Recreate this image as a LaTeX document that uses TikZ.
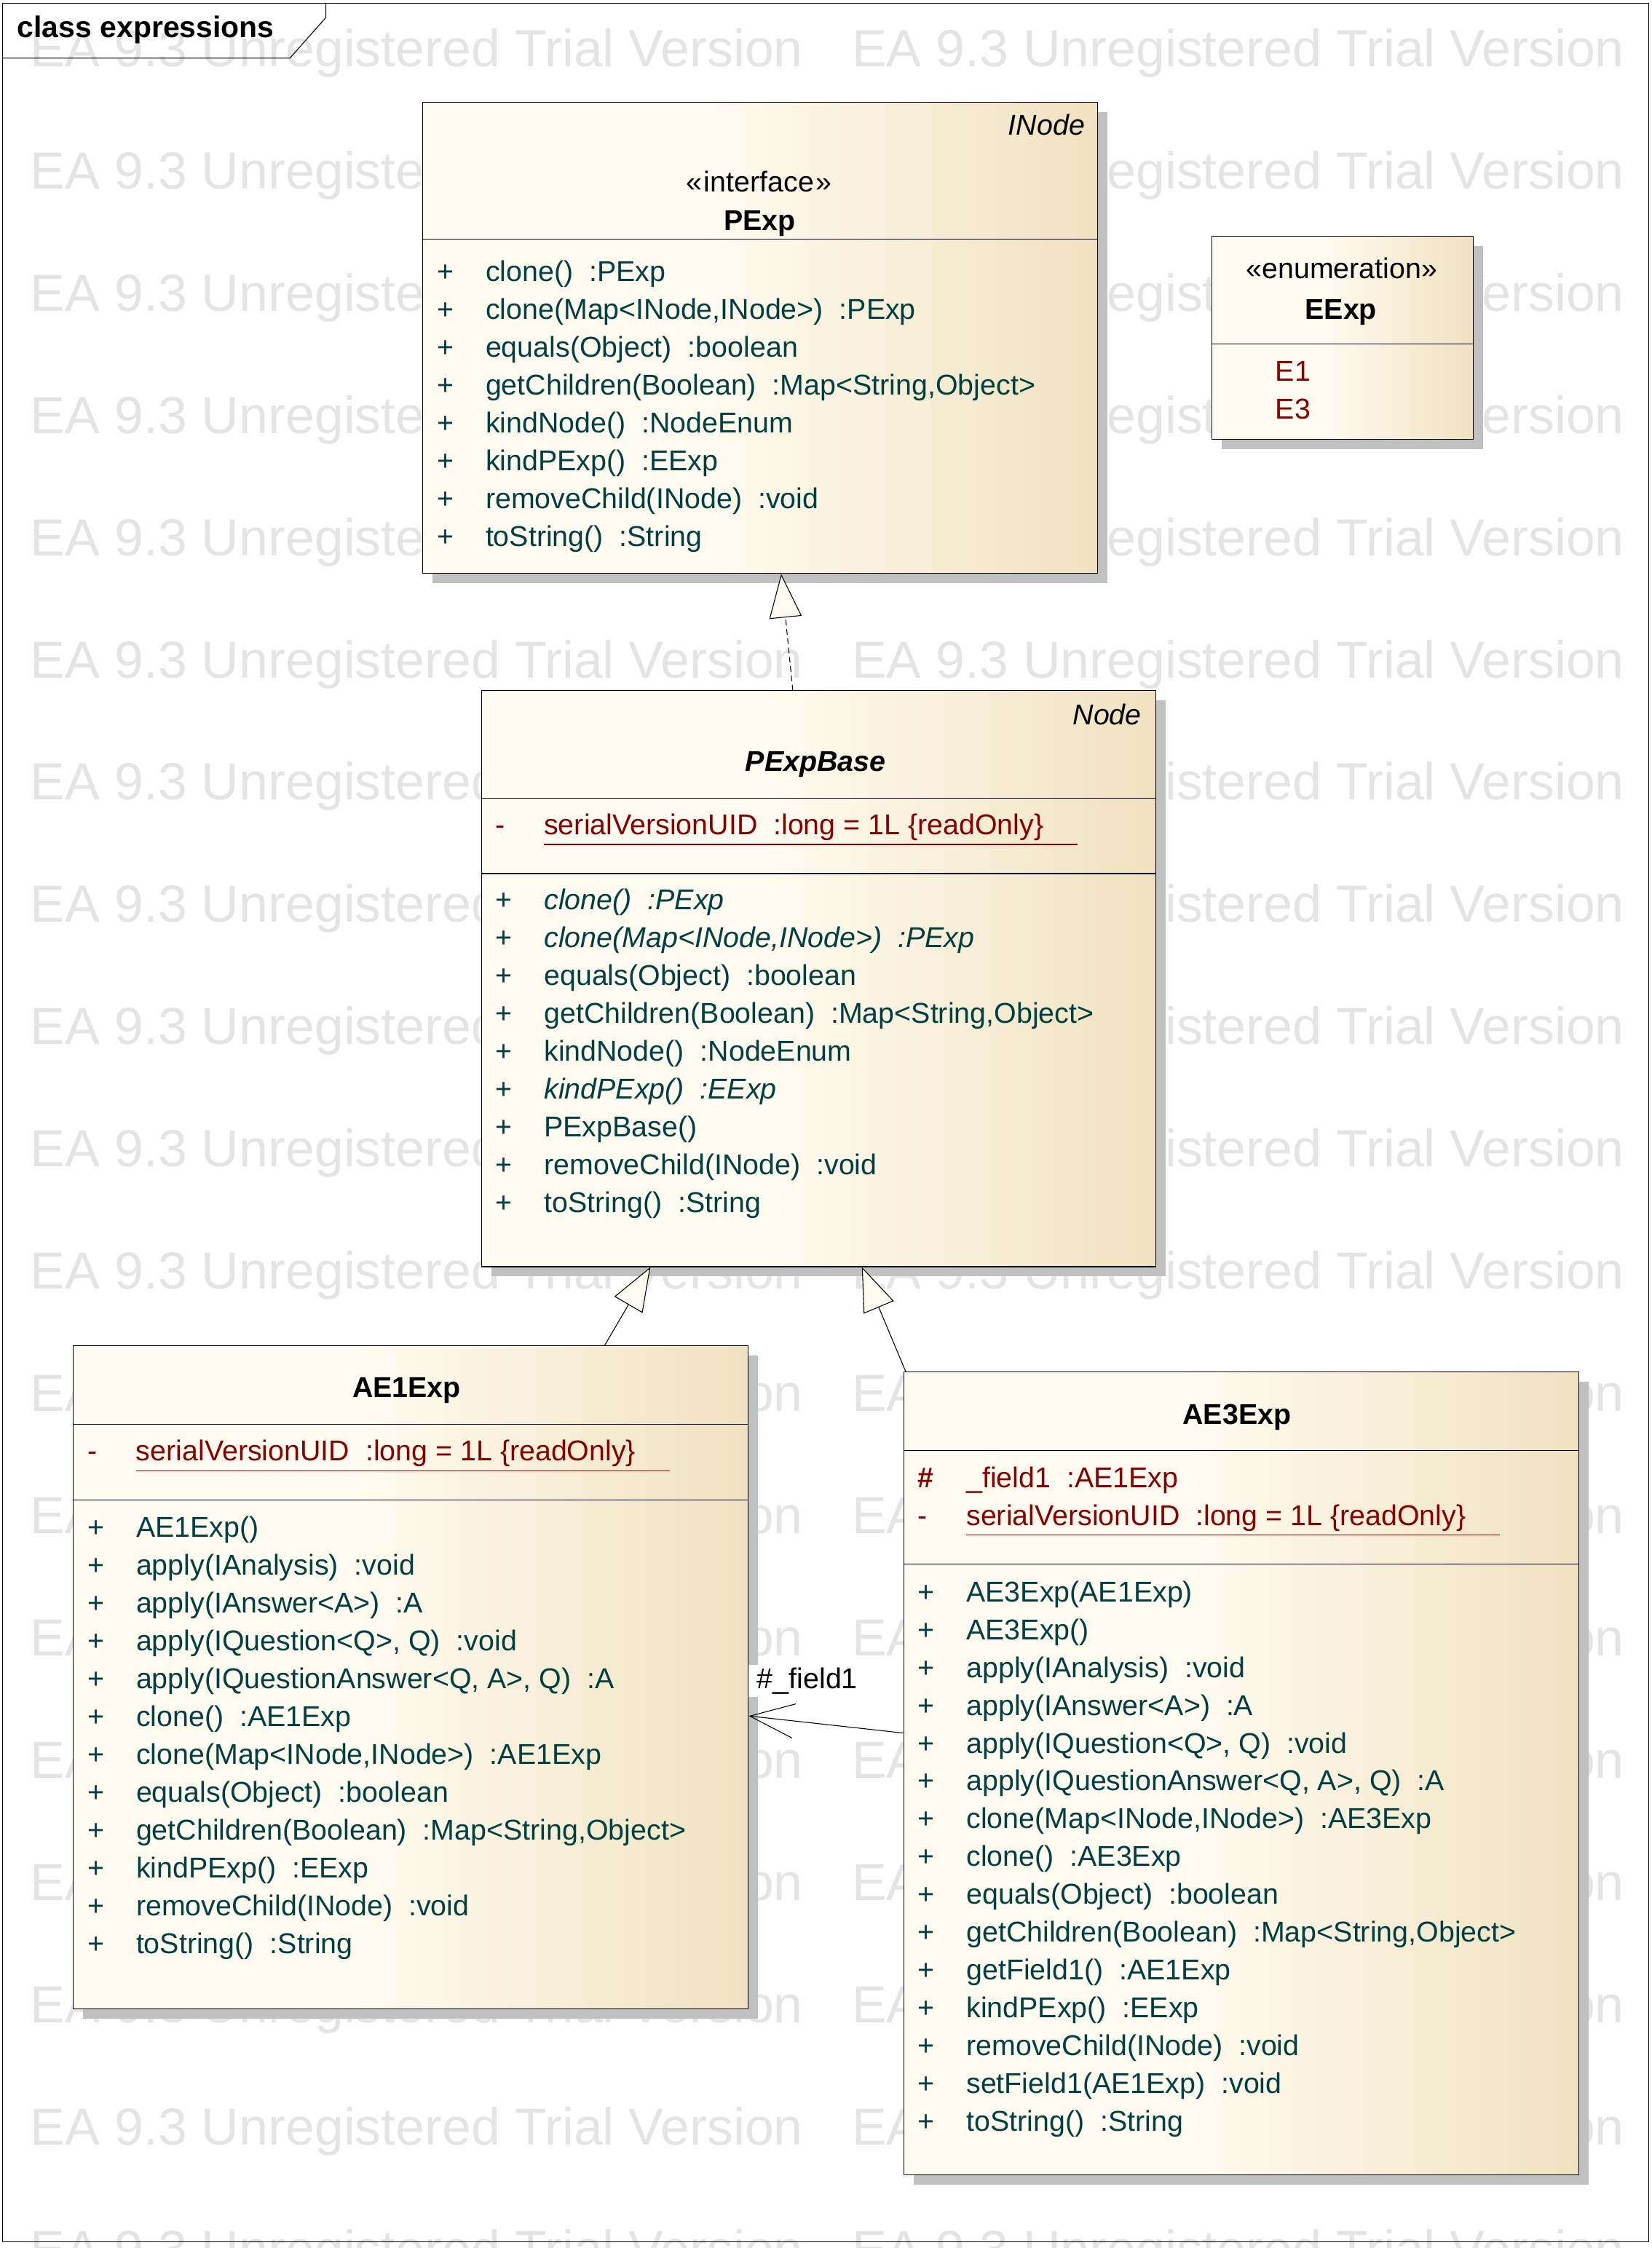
\documentclass[tikz,border=0pt]{standalone}
\usepackage{fontspec}
\setmainfont{Liberation Sans}
\usetikzlibrary{arrows.meta,shadows}

\definecolor{opcol}{RGB}{0,64,64}
\definecolor{atcol}{RGB}{136,0,0}
\definecolor{wmcol}{RGB}{228,228,228}
\definecolor{shcol}{RGB}{192,192,192}
\definecolor{clsA}{RGB}{255,251,240}
\definecolor{clsB}{RGB}{240,226,192}
\pgfdeclarehorizontalshading{clsshade}{100bp}{color(0bp)=(clsA); color(25bp)=(clsA); color(46bp)=(clsA); color(75bp)=(clsB); color(100bp)=(clsB)}
\newcommand{\vis}[1]{\makebox[34pt][l]{#1}}

\begin{document}
\begin{tikzpicture}[x=1pt, y=-1pt, >=Stealth]
    \tikzstyle{wm}=[anchor=base west, inner sep=0pt, text=wmcol, font=\fontsize{36.4pt}{40pt}\selectfont]
    \tikzstyle{diagframe}=[draw, line width=0.55pt]
    \tikzstyle{tablbl}=[anchor=base west, inner sep=0pt, font=\fontsize{20.8pt}{24pt}\selectfont\bfseries]
    \tikzstyle{cls}=[draw, line width=0.55pt, anchor=north west, inner sep=0pt, shading=clsshade,
                     drop shadow={shadow xshift=6.8pt, shadow yshift=-6.8pt, fill=shcol, opacity=1}]
    \tikzstyle{cname}=[anchor=base, inner sep=0pt, font=\fontsize{20pt}{24pt}\selectfont\bfseries]
    \tikzstyle{stereo}=[anchor=base, inner sep=0pt, font=\fontsize{20pt}{24pt}\selectfont]
    \tikzstyle{pname}=[anchor=base east, inner sep=0pt, font=\fontsize{20pt}{24pt}\selectfont\itshape]
    \tikzstyle{oprow}=[anchor=base west, inner sep=0pt, text=opcol, font=\fontsize{20pt}{24pt}\selectfont]
    \tikzstyle{atrow}=[anchor=base west, inner sep=0pt, text=atcol, font=\fontsize{20pt}{24pt}\selectfont]
    \tikzstyle{divider}=[draw, line width=0.55pt]
    \tikzstyle{uline}=[draw=atcol, line width=0.55pt]
    \tikzstyle{realize}=[draw, line width=0.55pt, dash pattern=on 4pt off 2.5pt, -{Triangle[length=30.5pt, width=22.7pt, fill=clsA]}]
    \tikzstyle{inherit}=[draw, line width=0.55pt, -{Triangle[length=30.5pt, width=22.7pt, fill=clsA]}]
    \tikzstyle{assoc}=[draw, line width=0.55pt, -{Straight Barb[length=31pt, width=24pt]}]
    \tikzstyle{lbl}=[anchor=base west, inner xsep=0pt, inner ysep=2pt, fill=white, font=\fontsize{20pt}{24pt}\selectfont]

    \useasboundingbox (0,0) rectangle (1152,1568.5);

    % watermark
    \foreach \r in {0,...,18}
      \foreach \c/\cx in {0/21.1, 1/594.1}
        \node[wm] (wm\r-\c) at (\cx, 46.4+85.3*\r) {EA 9.3 Unregistered Trial Version};

    % diagram frame
    \draw[diagframe] (1.9,2.2) rectangle (1150,1564);
    \draw[diagframe] (1.9,40.6) -- (202.2,40.6) -- (227.4,12.2) -- (227.4,2.2);
    \node[tablbl] (frametitle) at (11.9,26.3) {class expressions};

    % PExp
    \node[cls, minimum width=470.6pt, minimum height=328.6pt] (pexp) at (294.8,71.3) {};
    \node[pname] (pexp-parent) at (757,94.4) {INode};
    \node[stereo] (pexp-st) at (529.5,133.6) {«\kern1.5pt interface\kern1.5pt»};
    \node[cname] (pexp-name) at (530.1,160.8) {PExp};
    \draw[divider] (pexp.west |- 0,166.8) -- (pexp.east |- 0,166.8);
    \foreach \m [count=\i from 0] in {{clone()~~:PExp}, {clone(Map<INode,INode>)~~:PExp}, {equals(Object)~~:boolean},
        {getChildren(Boolean)~~:Map<String,Object>}, {kindNode()~~:NodeEnum}, {kindPExp()~~:EExp},
        {removeChild(INode)~~:void}, {toString()~~:String}}
      \node[oprow] (pexp-op\i) at (304.6,196.4+26.4*\i) {\vis{+}\m};

    % EExp
    \node[cls, minimum width=182.4pt, minimum height=141.7pt] (eexp) at (845.3,164.7) {};
    \node[stereo] (eexp-st) at (936,194.4) {«enumeration»};
    \node[cname] (eexp-name) at (935.5,222.6) {EExp};
    \draw[divider] (eexp.west |- 0,240.1) -- (eexp.east |- 0,240.1);
    \node[atrow] (eexp-e1) at (889.6,265.8) {E1};
    \node[atrow] (eexp-e3) at (889.6,292.4) {E3};

    % PExpBase
    \node[cls, minimum width=470.4pt, minimum height=401.8pt] (pbase) at (335.6,481.7) {};
    \node[pname] (pbase-parent) at (796.5,505.6) {Node};
    \node[cname] (pbase-name) at (569,538.4) {\textit{PExpBase}};
    \draw[divider] (pbase.west |- 0,557) -- (pbase.east |- 0,557);
    \draw[divider] (pbase.west |- 0,609.5) -- (pbase.east |- 0,609.5);
    \node[atrow] (pbase-at0) at (345.4,582.4) {\vis{-}serialVersionUID~~:long = 1L \{readOnly\}};
    \draw[uline] ([xshift=34pt,yshift=-6.8pt]pbase-at0.base west) -- ++(372.5,0);
    \foreach \m [count=\i from 0] in {{\textit{clone()~~:PExp}}, {\textit{clone(Map<INode,INode>)~~:PExp}},
        {equals(Object)~~:boolean}, {getChildren(Boolean)~~:Map<String,Object>}, {kindNode()~~:NodeEnum},
        {\textit{kindPExp()~~:EExp}}, {PExpBase()}, {removeChild(INode)~~:void}, {toString()~~:String}}
      \node[oprow] (pbase-op\i) at (345.4,634.9+26.4*\i) {\vis{+}\m};

    % AE1Exp
    \node[cls, minimum width=470.8pt, minimum height=462.7pt] (ae1) at (51,938.8) {};
    \node[cname] (ae1-name) at (283.7,975.2) {AE1Exp};
    \draw[divider] (ae1.west |- 0,993.9) -- (ae1.east |- 0,993.9);
    \draw[divider] (ae1.west |- 0,1046.7) -- (ae1.east |- 0,1046.7);
    \node[atrow] (ae1-at0) at (60.8,1019.3) {\vis{-}serialVersionUID~~:long = 1L \{readOnly\}};
    \draw[uline] ([xshift=34pt,yshift=-6.8pt]ae1-at0.base west) -- ++(372.5,0);
    \foreach \m [count=\i from 0] in {{AE1Exp()}, {apply(IAnalysis)~~:void}, {apply(IAnswer<A>)~~:A},
        {apply(IQuestion<Q>, Q)~~:void}, {apply(IQuestionAnswer<Q, A>, Q)~~:A}, {clone()~~:AE1Exp},
        {clone(Map<INode,INode>)~~:AE1Exp}, {equals(Object)~~:boolean}, {getChildren(Boolean)~~:Map<String,Object>},
        {kindPExp()~~:EExp}, {removeChild(INode)~~:void}, {toString()~~:String}}
      \node[oprow] (ae1-op\i) at (60.8,1072.6+26.4*\i) {\vis{+}\m};

    % AE3Exp
    \node[cls, minimum width=470.8pt, minimum height=560.1pt] (ae3) at (630.2,957.1) {};
    \node[cname] (ae3-name) at (862.9,993.9) {AE3Exp};
    \draw[divider] (ae3.west |- 0,1012) -- (ae3.east |- 0,1012);
    \draw[divider] (ae3.west |- 0,1091.2) -- (ae3.east |- 0,1091.2);
    \node[atrow] (ae3-at0) at (640,1037.9) {\vis{\textbf{\#}}\_field1~~:AE1Exp};
    \node[atrow] (ae3-at1) at (640,1064.3) {\vis{-}serialVersionUID~~:long = 1L \{readOnly\}};
    \draw[uline] ([xshift=34pt,yshift=-6.8pt]ae3-at1.base west) -- ++(372.5,0);
    \foreach \m [count=\i from 0] in {{AE3Exp(AE1Exp)}, {AE3Exp()}, {apply(IAnalysis)~~:void}, {apply(IAnswer<A>)~~:A},
        {apply(IQuestion<Q>, Q)~~:void}, {apply(IQuestionAnswer<Q, A>, Q)~~:A}, {clone(Map<INode,INode>)~~:AE3Exp},
        {clone()~~:AE3Exp}, {equals(Object)~~:boolean}, {getChildren(Boolean)~~:Map<String,Object>},
        {getField1()~~:AE1Exp}, {kindPExp()~~:EExp}, {removeChild(INode)~~:void}, {setField1(AE1Exp)~~:void},
        {toString()~~:String}}
      \node[oprow] (ae3-op\i) at (640,1117.5+26.4*\i) {\vis{+}\m};

    % relations
    \draw[realize] ([xshift=-18pt]pbase.north) -- ([xshift=14.6pt]pexp.south);
    \draw[inherit] ([xshift=135.1pt]ae1.north) -- ([xshift=-117.3pt]pbase.south);
    \draw[inherit] ([xshift=1.7pt]ae3.north west) -- ([xshift=30.2pt]pbase.south);
    \draw[assoc] ([yshift=28.25pt]ae3.west) -- ([yshift=-26.85pt]ae1.east);
    \node[lbl] (field1-lbl) at (522,1178.1) {\hspace*{6pt}\#\_field1\hspace*{1.5pt}};
\end{tikzpicture}
\end{document}
